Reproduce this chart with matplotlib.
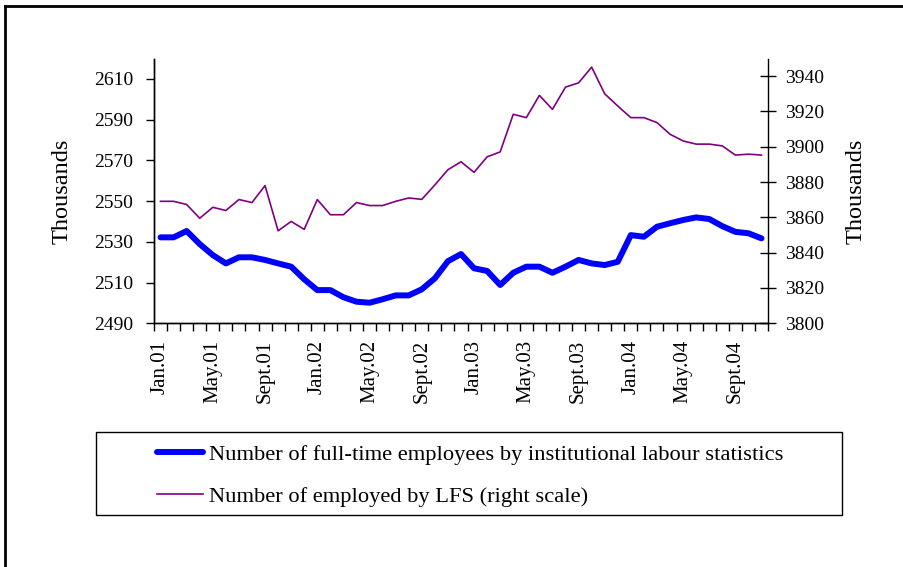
import matplotlib
matplotlib.use("Agg")
import matplotlib.pyplot as plt
from matplotlib.patches import Rectangle
from matplotlib.lines import Line2D
import numpy as np

plt.rcParams['font.family'] = ['Liberation Serif', 'DejaVu Serif']

months = ["Jan", "Feb", "Mar", "Apr", "May", "Jun", "Jul", "Aug", "Sept", "Oct", "Nov", "Dec"]
years = ["01", "02", "03", "04"]
categories = [f"{m}.{y}" for y in years for m in months][:47]

full_time = [2532.2, 2532.2, 2535.3, 2528.9, 2523.5, 2519.4, 2522.4, 2522.4, 2521.1, 2519.4,
             2517.8, 2511.6, 2506.3, 2506.3, 2502.8, 2500.6, 2500.1, 2501.8, 2503.7, 2503.7,
             2506.7, 2512.1, 2520.5, 2524.0, 2517.0, 2515.7, 2508.8, 2514.8, 2517.8, 2517.8,
             2514.8, 2517.8, 2521.1, 2519.4, 2518.6, 2520.2, 2533.3, 2532.5, 2537.4, 2539.1,
             2540.7, 2542.0, 2541.2, 2537.7, 2534.9, 2534.2, 2531.7]

lfs = [3869.1, 3869.1, 3867.3, 3859.5, 3865.7, 3863.9, 3870.1, 3868.4, 3878.0, 3852.4,
       3857.7, 3853.2, 3870.1, 3861.5, 3861.5, 3868.4, 3866.7, 3866.7, 3869.1, 3871.0,
       3870.2, 3878.4, 3887.0, 3891.5, 3885.5, 3894.3, 3897.1, 3918.4, 3916.5, 3929.1,
       3921.2, 3933.8, 3936.2, 3945.1, 3930.0, 3923.1, 3916.5, 3916.5, 3913.7, 3907.1,
       3903.3, 3901.5, 3901.5, 3900.5, 3895.3, 3895.8, 3895.3]

label_full = "Number of full-time employees by institutional labour statistics"
label_lfs = "Number of employed by LFS (right scale)"
left_ticks = [2490, 2510, 2530, 2550, 2570, 2590, 2610]
right_ticks = [3800, 3820, 3840, 3860, 3880, 3900, 3920, 3940]

W, H = 904, 567
fig = plt.figure(figsize=(W / 100, H / 100), dpi=100)
ax = fig.add_axes([154 / W, 1 - 323.3 / H, (768 - 154) / W, (323.3 - 58.5) / H])
ax2 = ax.twinx()

x = np.arange(len(categories))
l1, = ax.plot(x, full_time, color='#0000ff', lw=4.3, solid_joinstyle='round',
              solid_capstyle='round', zorder=3)
l2, = ax2.plot(x, lfs, color='#800080', lw=1.2, zorder=2)
ax.set_zorder(ax2.get_zorder() + 1)
ax.patch.set_visible(False)

ax.set_xlim(-0.5, len(categories) - 0.5)
ax.set_ylim(2490, 2620)
ax2.set_ylim(3800, 3950)

for a in (ax, ax2):
    a.spines['top'].set_visible(False)
    for s in a.spines.values():
        s.set_linewidth(1.0)
ax.spines['right'].set_visible(False)

fs_y = 14
fs_x = 15
fs_lab = 17.5
fs_leg = 16.2
ax.set_yticks(left_ticks)
ax.set_yticklabels([str(v) for v in left_ticks], fontsize=fs_y)
ax.tick_params(axis='y', direction='out', length=6, width=1, pad=9)
ax2.set_yticks(right_ticks)
ax2.set_yticklabels([str(v) for v in right_ticks], fontsize=fs_y)
ax2.tick_params(axis='y', direction='inout', length=12, width=1, pad=6)

ax.set_xticks(x[::4])
ax.set_xticklabels(categories[::4], rotation=90, fontsize=fs_x)
ax.set_xticks(np.arange(-0.5, len(categories), 1), minor=True)
ax.tick_params(axis='x', which='major', length=0, pad=12)
ax.tick_params(axis='x', which='minor', direction='out', length=6, width=1)

ax.set_ylabel("Thousands", fontsize=fs_lab)
ax2.set_ylabel("Thousands", fontsize=fs_lab)
ax.yaxis.set_label_coords(-0.132, 0.5)
ax2.yaxis.set_label_coords(1.127, 0.5)

# legend box
fig.patches.append(Rectangle((96 / W, 1 - 515 / H), (842 - 96) / W, (515 - 432) / H,
                             transform=fig.transFigure, fill=False, edgecolor='black', lw=1.0))
leg = fig.legend([l1, l2], [label_full, label_lfs], loc='center left',
                 bbox_to_anchor=(157 / W, 1 - 475.5 / H), frameon=False, fontsize=fs_leg,
                 handlelength=2.05, handletextpad=0.27, labelspacing=0.95, borderpad=0,
                 borderaxespad=0)

# outer border
fig.add_artist(Line2D([5 / W, 5 / W], [0, 1 - 6 / H], transform=fig.transFigure, color='black', lw=2))
fig.add_artist(Line2D([5 / W, 1], [1 - 6 / H, 1 - 6 / H], transform=fig.transFigure, color='black', lw=2))

fig.savefig("out.png", dpi=100)
